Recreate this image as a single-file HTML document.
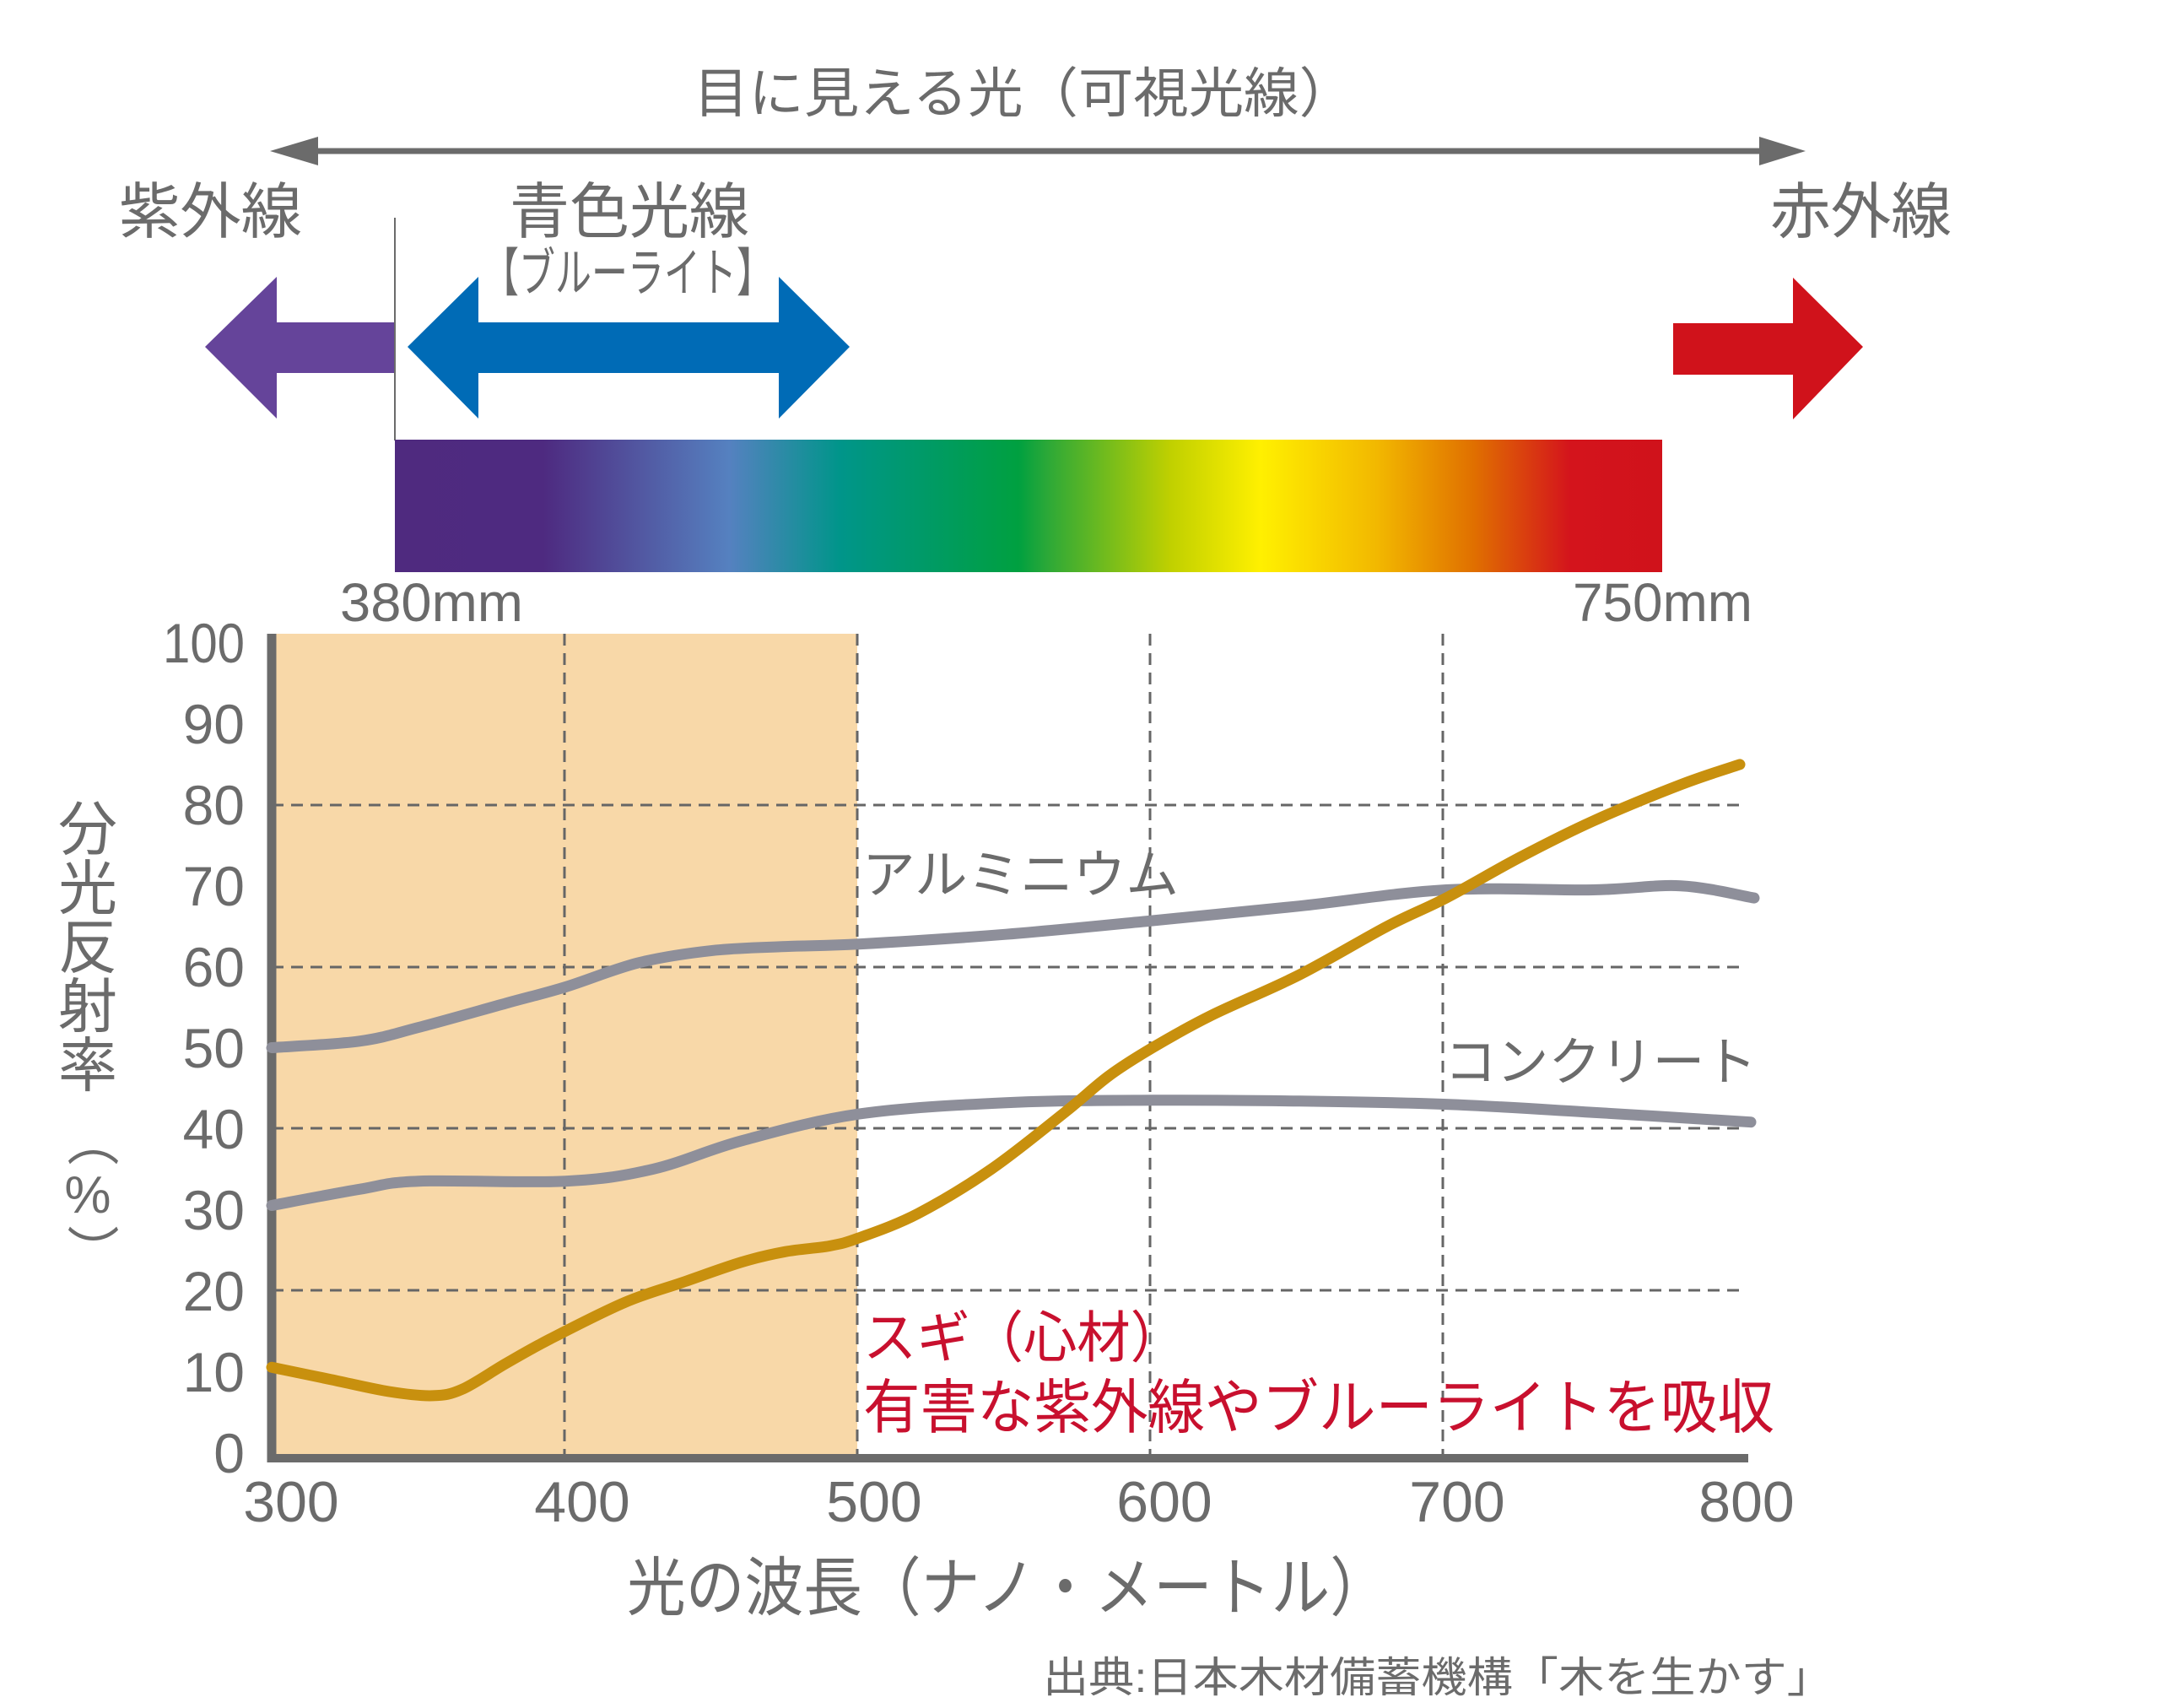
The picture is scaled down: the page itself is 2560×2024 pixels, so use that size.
<!DOCTYPE html>
<html><head><meta charset="utf-8"><style>
html,body{margin:0;padding:0;background:#fff;}
svg{display:block;}
text{font-family:"Liberation Sans","Noto Sans CJK JP",sans-serif;fill:#6b6b6b;}
</style></head><body>
<svg id="chart" width="2560" height="2024" viewBox="0 0 2560 2024" xmlns="http://www.w3.org/2000/svg">
<defs>
<linearGradient id="spec" x1="0" x2="1" y1="0" y2="0">
<stop offset="0" stop-color="#4f2a7f"/>
<stop offset="0.117" stop-color="#4e2a80"/>
<stop offset="0.264" stop-color="#5581c0"/>
<stop offset="0.351" stop-color="#00958a"/>
<stop offset="0.492" stop-color="#00a040"/>
<stop offset="0.514" stop-color="#2aa838"/>
<stop offset="0.612" stop-color="#c0d000"/>
<stop offset="0.683" stop-color="#fff000"/>
<stop offset="0.775" stop-color="#f2b800"/>
<stop offset="0.851" stop-color="#e07000"/>
<stop offset="0.927" stop-color="#d4141c"/>
<stop offset="1" stop-color="#d0121b"/>
</linearGradient>
</defs>

<text x="822" y="133" font-size="64" textLength="783" lengthAdjust="spacingAndGlyphs">目に見える光（可視光線）</text>
<line x1="370" y1="179" x2="2090" y2="179" stroke="#6b6b6b" stroke-width="7"/>
<polygon points="320,179 377,162 377,196" fill="#6b6b6b"/>
<polygon points="2140,179 2085,162 2085,196" fill="#6b6b6b"/>

<text x="141" y="276" font-size="72" textLength="217" lengthAdjust="spacingAndGlyphs">紫外線</text>
<text x="604" y="276" font-size="72" textLength="284" lengthAdjust="spacingAndGlyphs">青色光線</text>
<text x="2098" y="276" font-size="72" textLength="215" lengthAdjust="spacingAndGlyphs">赤外線</text>
<text x="572" y="345" font-size="62" textLength="344" lengthAdjust="spacingAndGlyphs">【ブルーライト】</text>

<line x1="468" y1="258" x2="468" y2="522" stroke="#6b6b6b" stroke-width="2"/>

<polygon points="243,411 328,328 328,382 467,382 467,442 328,442 328,496" fill="#65449a"/>
<polygon points="483,411 567,328 567,382 923,382 923,328 1007,411 923,496 923,442 567,442 567,496" fill="#006bb6"/>
<polygon points="1983,383 2125,383 2125,329 2208,411 2125,497 2125,444 1983,444" fill="#d0121b"/>

<rect x="468" y="521" width="1502" height="157" fill="url(#spec)"/>
<text x="403" y="736" font-size="64" textLength="217" lengthAdjust="spacingAndGlyphs">380mm</text>
<text x="1864" y="736" font-size="64" textLength="213" lengthAdjust="spacingAndGlyphs">750mm</text>

<rect x="322" y="751" width="694" height="977" fill="#f8d8a8"/>
<g stroke="#666" stroke-width="3" stroke-dasharray="14,9" fill="none">
<line x1="322" y1="954" x2="2062" y2="954"/>
<line x1="322" y1="1146" x2="2062" y2="1146"/>
<line x1="322" y1="1337" x2="2062" y2="1337"/>
<line x1="322" y1="1529" x2="2062" y2="1529"/>
<line x1="669" y1="751" x2="669" y2="1728"/>
<line x1="1016" y1="751" x2="1016" y2="1728"/>
<line x1="1363" y1="751" x2="1363" y2="1728"/>
<line x1="1710" y1="751" x2="1710" y2="1728"/>
</g>
<line x1="322" y1="751" x2="322" y2="1733" stroke="#6b6b6b" stroke-width="11"/>
<line x1="317" y1="1728" x2="2072" y2="1728" stroke="#6b6b6b" stroke-width="10"/>

<g font-size="66" text-anchor="end">
<text x="290" y="785" textLength="97" lengthAdjust="spacingAndGlyphs">100</text>
<text x="290" y="881">90</text>
<text x="290" y="977">80</text>
<text x="290" y="1073">70</text>
<text x="290" y="1169">60</text>
<text x="290" y="1265">50</text>
<text x="290" y="1361">40</text>
<text x="290" y="1457">30</text>
<text x="290" y="1553">20</text>
<text x="290" y="1649">10</text>
<text x="290" y="1745">0</text>
</g>
<g font-size="68" text-anchor="middle">
<text x="345" y="1803">300</text>
<text x="690" y="1803">400</text>
<text x="1036" y="1803">500</text>
<text x="1380" y="1803">600</text>
<text x="1727" y="1803">700</text>
<text x="2070" y="1803">800</text>
</g>

<g font-size="70" text-anchor="middle">
<text x="104" y="1007">分</text>
<text x="104" y="1077">光</text>
<text x="104" y="1147">反</text>
<text x="104" y="1217">射</text>
<text x="104" y="1287">率</text>
</g>
<text x="104" y="1320" font-size="62" style="writing-mode:vertical-rl;text-orientation:upright">（%）</text>

<g fill="none" stroke-width="13" stroke-linejoin="round" stroke-linecap="round">
<polyline class="sm" stroke="#8e8f9a" points="322,1241.5 426,1233.8 496,1217.5 600,1188.8 670,1169.6 757,1140.8 844,1126.4 931,1121.6 1018,1118.7 1192,1107.2 1366,1091 1540,1073.7 1714,1054.5 1888,1054.5 1992,1049.7 2079,1064.1"/>
<polyline class="sm" stroke="#8e8f9a" points="322,1428.5 426,1409.3 496,1399.7 670,1399.7 774,1385.4 879,1351.8 1018,1320.1 1192,1306.7 1366,1303.8 1540,1304.8 1714,1308.6 1888,1318.2 2075,1329.7"/>
<polyline class="sm" stroke="#c8900e" points="322,1620.3 392,1634.7 461,1649 513,1653.9 548,1646.2 600,1615.5 652,1586.7 740,1543.6 809,1519.6 879,1495.6 931,1483.2 983,1476.5 1018,1466.9 1088,1438.1 1175,1385.4 1262,1318.2 1314,1275.1 1366,1241.5 1436,1203.1 1540,1155.2 1644,1097.7 1714,1064.1 1801,1016.1 1888,973 1992,929.8 2062,905.9"/>
</g>

<text x="1022" y="1058" font-size="62" textLength="375" lengthAdjust="spacingAndGlyphs">アルミニウム</text>
<text x="1712" y="1280" font-size="62" textLength="370" lengthAdjust="spacingAndGlyphs">コンクリート</text>
<text x="1023" y="1608" font-size="66" style="fill:#c8102e" textLength="380" lengthAdjust="spacingAndGlyphs">スギ（心材）</text>
<text x="1023" y="1692" font-size="70" style="fill:#c8102e" textLength="1080" lengthAdjust="spacingAndGlyphs">有害な紫外線やブルーライトを吸収</text>

<text x="743" y="1908" font-size="76" textLength="903" lengthAdjust="spacingAndGlyphs">光の波長（ナノ・メートル）</text>
<text x="1236" y="2005" font-size="50" textLength="936" lengthAdjust="spacingAndGlyphs">出典:日本木材備蓄機構「木を生かす」</text>
</svg>
<script>
(function(){
var NS="http://www.w3.org/2000/svg";
var pls=document.querySelectorAll("polyline.sm");
for(var k=0;k<pls.length;k++){
 var pl=pls[k];
 var pts=pl.getAttribute("points").trim().split(/\s+/).map(function(s){var a=s.split(",");return [+a[0],+a[1]];});
 var d="M"+pts[0][0]+","+pts[0][1];
 for(var i=0;i<pts.length-1;i++){
  var p0=pts[i-1]||pts[i],p1=pts[i],p2=pts[i+1],p3=pts[i+2]||p2;
  var c1x=p1[0]+(p2[0]-p0[0])/6,c1y=p1[1]+(p2[1]-p0[1])/6;
  var c2x=p2[0]-(p3[0]-p1[0])/6,c2y=p2[1]-(p3[1]-p1[1])/6;
  d+=" C"+c1x.toFixed(1)+","+c1y.toFixed(1)+" "+c2x.toFixed(1)+","+c2y.toFixed(1)+" "+p2[0]+","+p2[1];
 }
 var p=document.createElementNS(NS,"path");
 p.setAttribute("d",d);
 p.setAttribute("stroke",pl.getAttribute("stroke"));
 pl.parentNode.replaceChild(p,pl);
}
})();
</script>
</body></html>
